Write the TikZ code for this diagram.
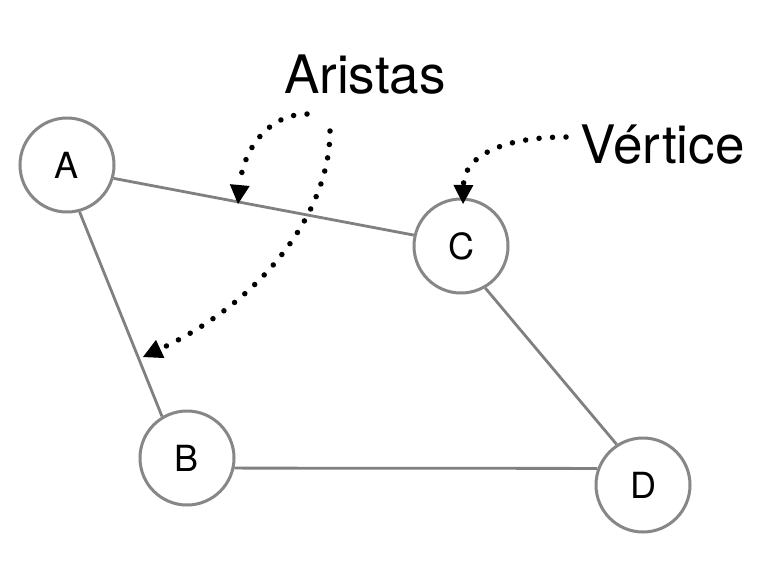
\documentclass[tikz,border=0pt]{standalone}
\usepackage{fontspec}
\setmainfont{TeX Gyre Heros}
\usetikzlibrary{arrows.meta}
\definecolor{edgegray}{RGB}{128,128,128}
\definecolor{ringgray}{RGB}{135,135,135}
\tikzset{
  vertex/.style={circle, draw=ringgray, line width=3pt, fill=white, minimum size=94pt, inner sep=0pt, font=\fontsize{36}{40}\selectfont},
  edge/.style={draw=edgegray, line width=2.8pt},
  bigtext/.style={inner sep=0pt, font=\fontsize{53}{60}\selectfont},
  pointer/.style={line width=5.5pt, line cap=round, dash pattern=on 0pt off 13.5pt,
    -{Triangle[width=20pt,length=19pt,line width=0pt]}}
}
\begin{document}
\begin{tikzpicture}[x=1pt,y=-1pt]
\useasboundingbox[fill=white] (0,0) rectangle (778,576);
\node[vertex] (A) at (67,165) {A};
\node[vertex] (C) at (461,246) {C};
\node[vertex] (B) at (187,458) {B};
\node[vertex] (D) at (643,485) {D};
\draw[edge] (A.-16) -- (C.167);
\draw[edge] (A.-75) -- (B.121);
\draw[edge] (B.-12) -- (D.160);
\draw[edge] (C.-60) -- (D.123);
\node[bigtext, anchor=base west] (aristas) at (284,93) {Aristas};
\node[bigtext, anchor=base west] (vertice) at (580,163) {Vértice};
\coordinate (s1) at (307,114);
\coordinate (s2) at (330,131);
\coordinate (s3) at (566,137);
\coordinate (t1) at (238,204);
\coordinate (t2) at (143,357);
\coordinate (t3) at (463,204);
\draw[pointer] (s1) .. controls (268,114) and (243,150) .. (t1);
\draw[pointer] (s2) .. controls (330,210) and (265,300) .. (t2);
\draw[pointer] (s3) .. controls (505,137) and (464,155) .. (t3);
\end{tikzpicture}
\end{document}
